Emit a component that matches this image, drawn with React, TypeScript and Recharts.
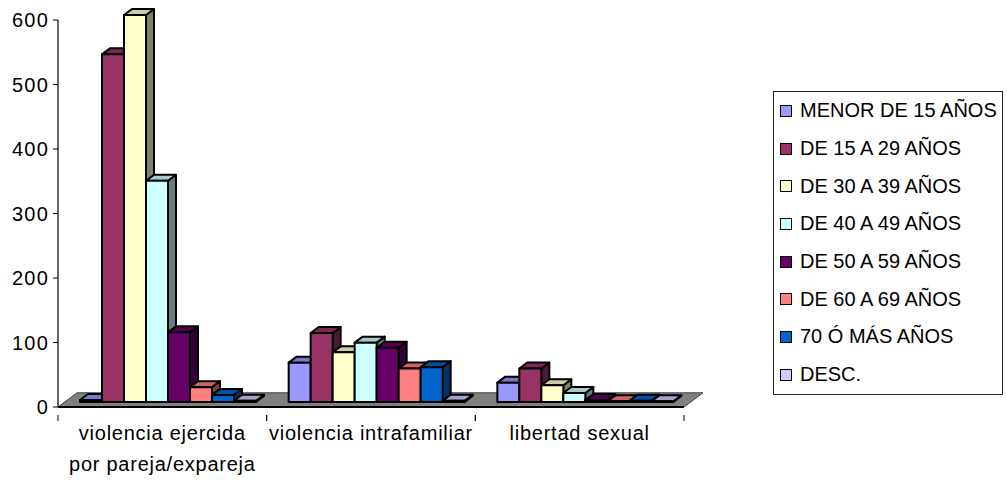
import { BarChart, Bar, XAxis, YAxis, Legend, ReferenceArea } from 'recharts';

const categories = ['violencia ejercida\npor pareja/expareja', 'violencia intrafamiliar', 'libertad sexual'];
const ageGroups = [
  'MENOR DE 15 AÑOS', 'DE 15 A 29 AÑOS', 'DE 30 A 39 AÑOS', 'DE 40 A 49 AÑOS',
  'DE 50 A 59 AÑOS', 'DE 60 A 69 AÑOS', '70 Ó MÁS AÑOS', 'DESC.',
];
const colors = ['#9999FF', '#993366', '#FFFFCC', '#CCFFFF', '#660066', '#FF8080', '#0066CC', '#CCCCFF'];
const sideColors = ['#4D4D80', '#4D1A33', '#808066', '#668080', '#330033', '#804040', '#003366', '#666680'];
const topColors = ['#7A7ACC', '#7A2952', '#CCCCA3', '#A3CCCC', '#520052', '#CC6666', '#0052A3', '#A3A3CC'];

const pareja = [3, 539, 600, 343, 108, 23, 11, 2];
const intrafamiliar = [61, 107, 77, 92, 84, 52, 54, 2];
const libertad = [30, 52, 26, 14, 3, 1, 2, 1];
const rows = [pareja, intrafamiliar, libertad];

const yTicks = [0, 100, 200, 300, 400, 500, 600];
const floorDepth = 22;

const data = categories.map((name, i) => {
  const row: Record<string, string | number> = { name };
  ageGroups.forEach((g, j) => { row[g] = rows[i][j]; });
  return row;
});

const font = '"Liberation Sans", Arial, sans-serif';

// front face sits a little behind the axis line, like the old 3D column charts
function Bar3D(props: any, idx: number) {
  const { x, y, width, height } = props;
  const dx = 8, dy = 6;
  const left = x + 6, top = y - 5, right = left + width, bottom = top + height;
  const s = { stroke: '#000', strokeWidth: 2, strokeLinejoin: 'round' as const };
  return (
    <g>
      <polygon points={`${right},${top} ${right + dx},${top - dy} ${right + dx},${bottom - dy} ${right},${bottom}`} fill={sideColors[idx]} {...s} />
      <polygon points={`${left},${top} ${left + dx},${top - dy} ${right + dx},${top - dy} ${right},${top}`} fill={topColors[idx]} {...s} />
      <rect x={left} y={top} width={width} height={height} fill={colors[idx]} {...s} />
    </g>
  );
}

function Floor(props: any) {
  const { x, y, width, height } = props;
  const b = y + height;
  return (
    <polygon
      points={`${x},${b} ${x + width},${b} ${x + width + 19},${y} ${x + 19},${y}`}
      fill="#808080"
      stroke="#404040"
      strokeWidth={1}
    />
  );
}

function CategoryTick(props: any) {
  const { x, y, payload } = props;
  const half = payload.offset ?? 104.3;
  const lines = String(payload.value).split('\n');
  return (
    <g>
      <line x1={x - half} x2={x - half} y1={y} y2={y + 6} stroke="#000" />
      <line x1={x + half} x2={x + half} y1={y} y2={y + 6} stroke="#000" />
      <text x={x} y={y + 25} textAnchor="middle" fontFamily={font} fontSize={20} fill="#000" letterSpacing={0.75}>
        {lines.map((l, i) => (
          <tspan key={l} x={x} dy={i === 0 ? 0 : 31}>{l}</tspan>
        ))}
      </text>
    </g>
  );
}

function LegendBox({ payload }: any) {
  return (
    <div style={{ width: 230, height: 304, boxSizing: 'border-box', border: '1px solid #222', background: '#fff' }}>
      {(payload || []).map((p: any) => (
        <div key={p.value} style={{ display: 'flex', alignItems: 'center', height: 37.7, marginLeft: 6, fontFamily: font, fontSize: 20, color: '#000', whiteSpace: 'nowrap' }}>
          <span style={{ width: 10, height: 10, border: '1.5px solid #000', background: p.color, marginRight: 8 }} />
          {p.value}
        </div>
      ))}
    </div>
  );
}

export default function App() {
  return (
    <div style={{ position: 'absolute', left: 0, top: 0 }}>
      <BarChart
        width={1007}
        height={480}
        data={data}
        margin={{ top: 20, right: 93, left: 0, bottom: 0 }}
        barSize={22}
        barGap={0}
        style={{ overflow: 'visible' }}
      >
        <XAxis
          dataKey="name"
          interval={0}
          height={73}
          axisLine={{ stroke: '#000', strokeWidth: 2 }}
          tickLine={false}
          tick={<CategoryTick />}
        />
        <YAxis
          width={58}
          domain={[0, 600]}
          ticks={yTicks}
          axisLine={{ stroke: '#000', strokeWidth: 1.2 }}
          tickLine={{ stroke: '#000' }}
          tickSize={5}
          tickMargin={4}
          tick={{ fontFamily: font, fontSize: 20, fill: '#000', letterSpacing: 1.2 }}
        />
        <ReferenceArea y1={0} y2={floorDepth} shape={<Floor />} ifOverflow="visible" />
        <Legend
          layout="vertical"
          align="right"
          verticalAlign="top"
          itemSorter={null}
          content={<LegendBox />}
          wrapperStyle={{ left: 773, top: 91, width: 230 }}
        />
        {ageGroups.map((g, i) => (
          <Bar key={g} dataKey={g} fill={colors[i]} isAnimationActive={false} shape={(p: any) => Bar3D(p, i)} />
        ))}
      </BarChart>
    </div>
  );
}
